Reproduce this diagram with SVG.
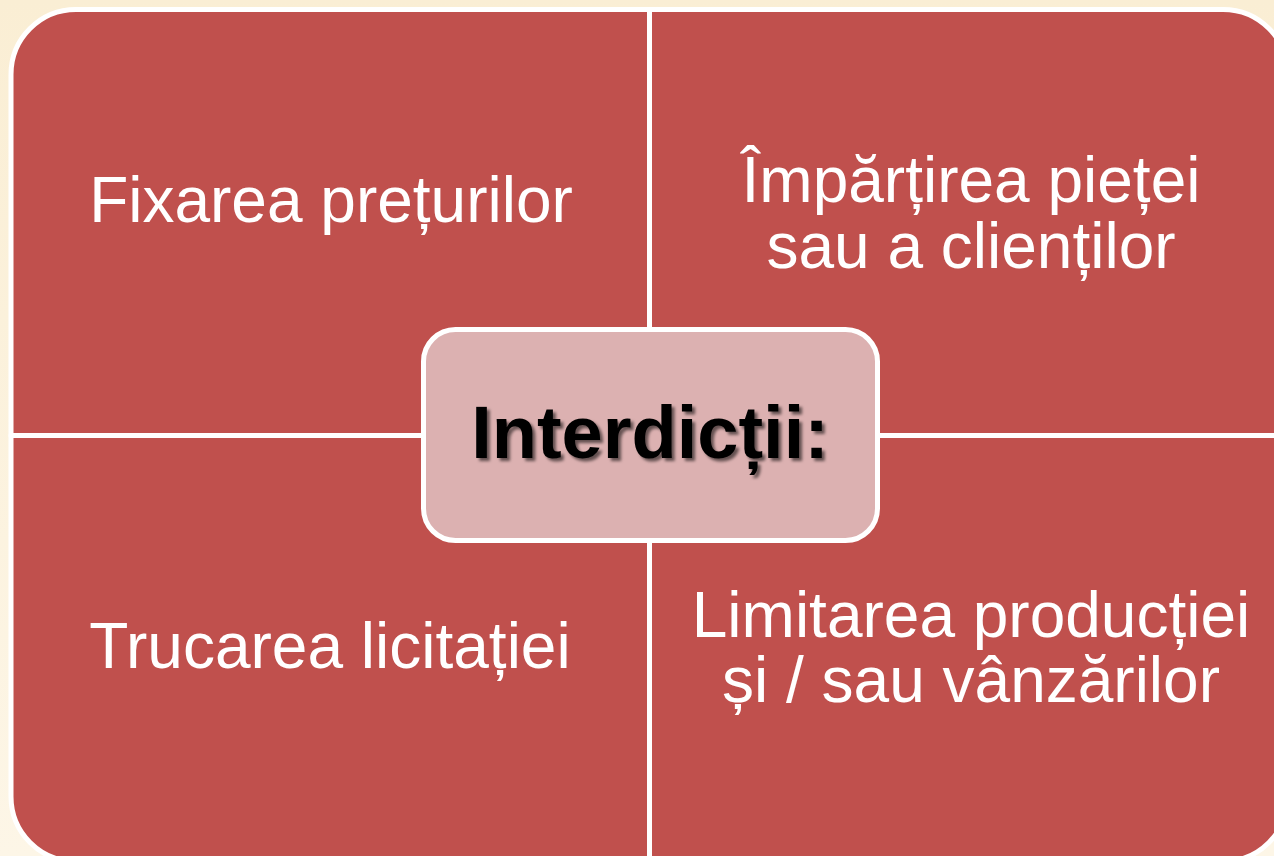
<svg xmlns="http://www.w3.org/2000/svg" width="1274" height="856" viewBox="0 0 1274 856">
<defs>
<linearGradient id="bg" x1="0" y1="0" x2="0" y2="1">
<stop offset="0" stop-color="#FAEED4"/>
<stop offset="1" stop-color="#FDF6E7"/>
</linearGradient>
<filter id="ts" x="-10%" y="-20%" width="130%" height="150%">
<feDropShadow dx="3" dy="3" stdDeviation="1.6" flood-color="#000" flood-opacity="0.55"/>
</filter>
</defs>
<style>
.q{fill:#C0504D;stroke:#FFFFFF;stroke-width:5;stroke-linejoin:round}
.qt{font-family:"Liberation Sans",Arial,sans-serif;font-size:64px;fill:#FFFFFF;text-anchor:middle}
.ct{font-family:"Liberation Sans",Arial,sans-serif;font-size:74px;font-weight:bold;fill:#000000;text-anchor:middle}
</style>
<rect x="0" y="0" width="1274" height="856" fill="url(#bg)"/>
<g id="q-top-left">
<path class="q" d="M11,435.5 V74.5 A65,65 0 0 1 76,9.5 H649.5 V435.5 Z"/>
<text class="qt" x="331" y="222">Fixarea prețurilor</text>
</g>
<g id="q-top-right">
<path class="q" d="M649.5,9.5 H1223 A65,65 0 0 1 1288,74.5 V435.5 H649.5 Z"/>
<text class="qt" x="971" y="202">Împărțirea pieței</text>
<text class="qt" x="971" y="268">sau a clienților</text>
</g>
<g id="q-bottom-left">
<path class="q" d="M11,435.5 H649.5 V861.5 H76 A65,65 0 0 1 11,796.5 Z"/>
<text class="qt" x="330" y="668">Trucarea licitației</text>
</g>
<g id="q-bottom-right">
<path class="q" d="M649.5,435.5 H1288 V796.5 A65,65 0 0 1 1223,861.5 H649.5 Z"/>
<text class="qt" x="971" y="637">Limitarea producției</text>
<text class="qt" x="971" y="702">și / sau vânzărilor</text>
</g>
<g id="center">
<rect x="423.5" y="329.5" width="454" height="211" rx="32" ry="32" fill="#DCB1B1" stroke="#FFFFFF" stroke-width="5"/>
<text class="ct" x="650" y="458" filter="url(#ts)">Interdicții:</text>
</g>
<g id="connectors"></g>
</svg>
